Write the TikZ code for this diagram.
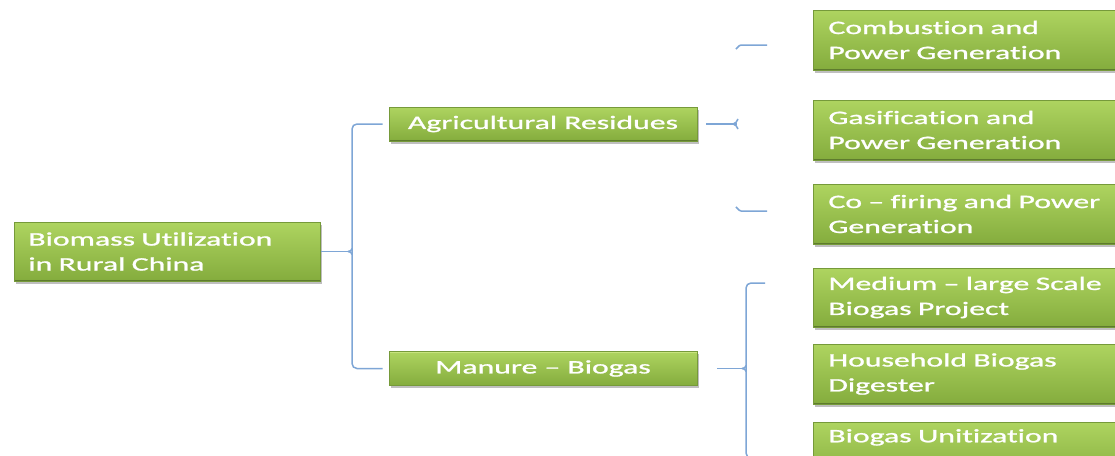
\documentclass[tikz,border=0pt]{standalone}
\usepackage{fontspec}
\newfontfamily\boxfont[FakeStretch=1.67,FakeBold=1.2,Ligatures=NoCommon]{Carlito}
\usetikzlibrary{shadows,calc}
\definecolor{gtop}{HTML}{AED460}
\definecolor{gbot}{HTML}{84AC3D}
\definecolor{gedge}{HTML}{769A3A}
\definecolor{ghi}{HTML}{C8E47E}
\definecolor{conncol}{HTML}{7EA6D6}
\tikzset{
  gbox/.style={rectangle, draw=gedge, line width=0.8pt, top color=gtop, bottom color=gbot,
    text=white, font=\boxfont\fontsize{19}{25}\selectfont, inner ysep=0pt,
    drop shadow={shadow xshift=1.5pt, shadow yshift=-2.5pt, fill=black, opacity=0.25},
    path picture={
      \draw[ghi, line width=2.5pt] (path picture bounding box.north west) -- (path picture bounding box.north east);
      \draw[gedge!80!black, line width=2pt] (path picture bounding box.south west) -- (path picture bounding box.south east);
    }},
  rootbox/.style={gbox, anchor=west, align=left, text width=278pt, inner xsep=14pt, minimum height=59pt},
  midbox/.style={gbox, minimum width=308pt, minimum height=34pt, align=center},
  leafbox/.style={gbox, anchor=west, align=left, text width=300pt, inner xsep=15pt, minimum height=60pt},
  conn/.style={draw=conncol, line width=1.5pt}
}
\begin{document}
\begin{tikzpicture}[x=1pt,y=-1pt]
\useasboundingbox (0,0) rectangle (1115,455);
\clip (0,0) rectangle (1115,455);
\fill[white] (0,0) rectangle (1115,455);

\node[rootbox] (root) at (14,251.5) {Biomass Utilization\\in Rural China};
\node[midbox] (agri) at (543,124) {Agricultural Residues};
\node[midbox] (manure) at (543,368.5) {Manure – Biogas};

\node[leafbox] (c1) at (813,40) {Combustion and\\Power Generation};
\node[leafbox] (c2) at (813,130) {Gasification and\\Power Generation};
\node[leafbox] (c3) at (813,214) {Co – firing and Power\\Generation};
\node[leafbox, minimum height=59pt] (m1) at (813,297.5) {Medium – large Scale\\Biogas Project};
\node[leafbox] (m2) at (813,374) {Household Biogas\\Digester};
\node[leafbox] (m3) at (813,452) {Biogas Unitization\\\strut};

% root bracket
\coordinate (rb) at (352,251.5);
\draw[conn] (root.east) -- ($(rb)+(-4,0)$);
\draw[conn, rounded corners=5] ([xshift=-6pt]agri.west) -- (rb|-agri.west) -- (rb|-manure.west) -- ([xshift=-6pt]manure.west);
\draw[conn] ($(rb)+(-4,0)$) to[out=0,in=90] ($(rb)+(0,3)$);
\draw[conn] ($(rb)+(-4,0)$) to[out=0,in=-90] ($(rb)+(0,-3)$);

% agricultural residues bracket (fragments)
\coordinate (af) at (737,124);
\draw[conn] ([xshift=9pt]agri.east) -- (af);
\draw[conn] ($(af)+(-4,0)$) to[out=0,in=-120] ($(af)+(1,-5)$);
\draw[conn] ($(af)+(-4,0)$) to[out=0,in=120] ($(af)+(1,5)$);
\coordinate (t1) at (767,45);
\coordinate (t3) at (767,211);
\draw[conn] (t1) -- (741,45) to[out=180,in=-90] (736,48);
\draw[conn] (t3) -- (741,211) to[out=180,in=90] (736,208);

% manure bracket
\coordinate (mb) at (746,368.5);
\draw[conn] ([xshift=20pt]manure.east) -- ($(mb)+(-4,0)$);
\draw[conn, rounded corners=5] (765,283) -- (746,283) -- (746,458) -- (765,458);
\draw[conn] ($(mb)+(-4,0)$) to[out=0,in=90] ($(mb)+(0,3)$);
\draw[conn] ($(mb)+(-4,0)$) to[out=0,in=-90] ($(mb)+(0,-3)$);
\end{tikzpicture}
\end{document}
